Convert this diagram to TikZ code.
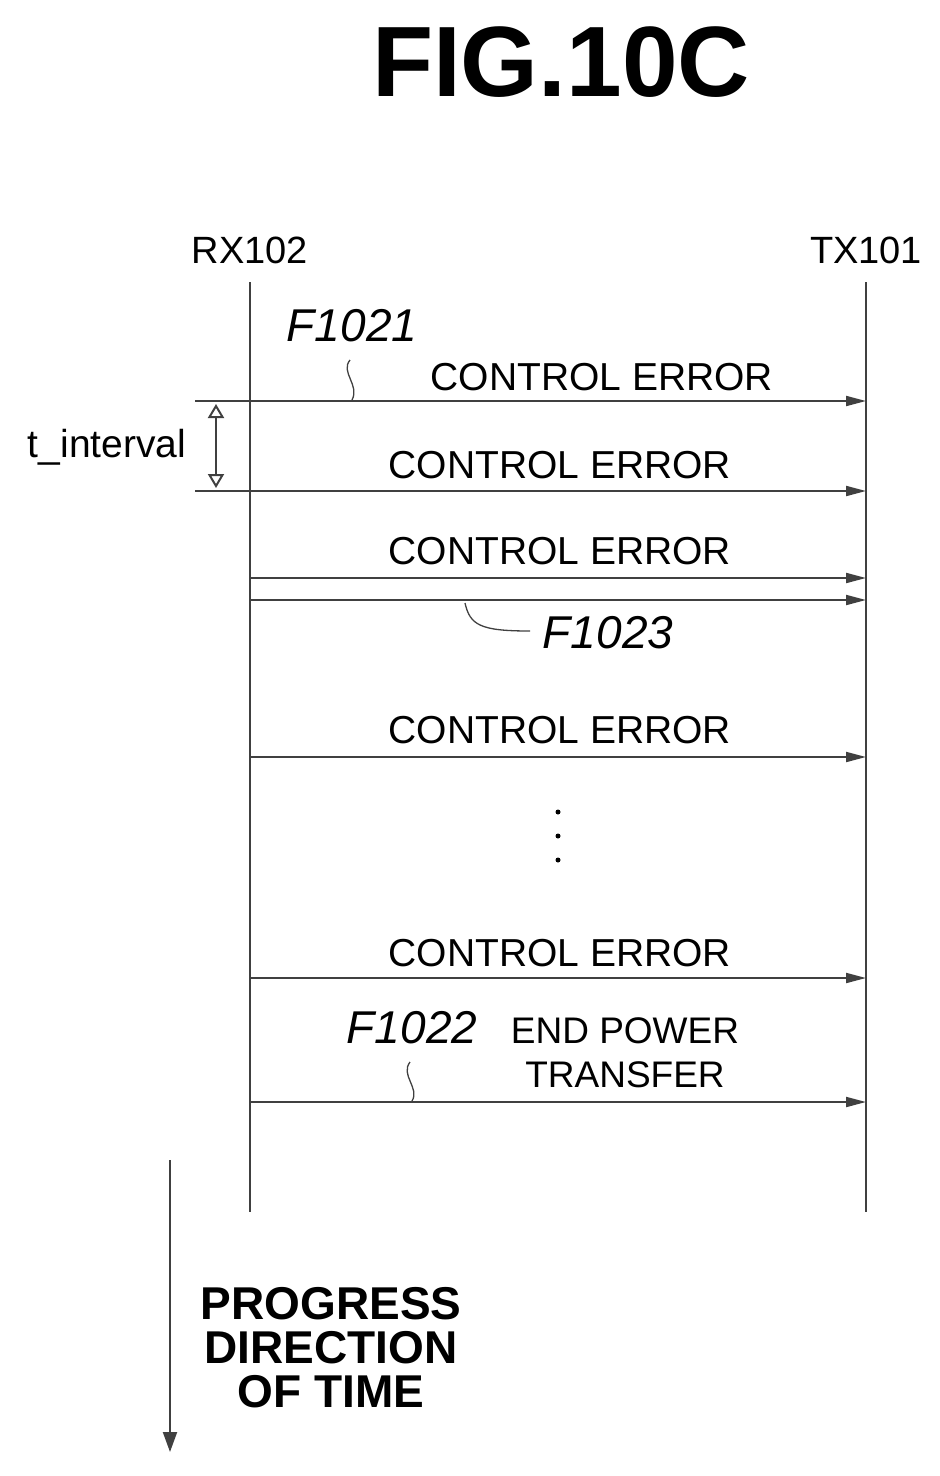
\documentclass[tikz,border=0pt]{standalone}
\usepackage{fontspec}
\setmainfont{Liberation Sans}
\usetikzlibrary{arrows.meta,decorations.pathmorphing}
\begin{document}
\begin{tikzpicture}[x=1pt,y=-1pt,
  ln/.style={line width=2pt,draw=black!75},
  msg/.style={ln,-{Triangle[length=20pt,width=10pt]}},
  lbl/.style={font=\fontsize{39}{40}\selectfont,inner sep=0},
  fl/.style={font=\fontsize{46}{48}\selectfont\itshape,inner sep=0},
  sq/.style={ln,line width=1pt,decorate,decoration={snake,amplitude=2.5pt,segment length=20pt}}]
\useasboundingbox (0,0) rectangle (940,1476);
\node[font=\fontsize{100}{110}\selectfont\bfseries,inner sep=0] (title) at (561,62) {FIG.10C};
\node[lbl,font=\fontsize{38}{40}\selectfont] (rx) at (250,250) {RX102};
\node[lbl,font=\fontsize{38}{40}\selectfont] (tx) at (866,250) {TX101};
\coordinate (rxt) at (250,282); \coordinate (rxb) at (250,1212);
\coordinate (txt) at (866,282); \coordinate (txb) at (866,1212);
\draw[ln] (rxt) -- (rxb); \draw[ln] (txt) -- (txb);
\foreach \y/\n in {401/a,491/b,578/c,600/d,757/e,978/f,1102/g}{
  \coordinate (s\n) at (250,\y); \coordinate (e\n) at (866,\y);
  \draw[msg] (s\n) -- (e\n);}
\node[lbl] (m1) at (602,377) {CONTROL ERROR};
\node[lbl] (m2) at (560,465) {CONTROL ERROR};
\node[lbl] (m3) at (560,551) {CONTROL ERROR};
\node[lbl] (m4) at (560,730) {CONTROL ERROR};
\node[lbl] (m5) at (560,953) {CONTROL ERROR};
\node[lbl,align=center,font=\fontsize{37}{44}\selectfont] (m6) at (625,1053) {END POWER\\TRANSFER};
\foreach \y/\n in {812/1,836/2,860/3} \fill (558,\y) circle (2.5pt) coordinate (dot\n);
\node[fl] (f1) at (352,326) {F1021};
\node[fl] (f3) at (608,633) {F1023};
\node[fl] (f2) at (412,1028) {F1022};
\coordinate (q1) at (350,360); \coordinate (q1e) at (352,400);
\draw[ln,line width=1.3pt] (q1) .. controls (340,372) and (360,385) .. (q1e);
\coordinate (q3) at (465,603); \coordinate (q3e) at (530,631);
\draw[ln,line width=1.3pt] (q3) .. controls (470,625) and (480,631) .. (q3e);
\coordinate (q2) at (410,1062); \coordinate (q2e) at (412,1101);
\draw[ln,line width=1.3pt] (q2) .. controls (400,1075) and (420,1088) .. (q2e);
% t_interval
\coordinate (ta) at (195,401); \coordinate (tb) at (195,491);
\draw[ln] (ta) -- (sa); \draw[ln] (tb) -- (sb);
\coordinate (da) at (216,404); \coordinate (db) at (216,488);
\draw[ln,{Triangle[length=14pt,width=16pt,open]}-{Triangle[length=14pt,width=16pt,open]}] (da) -- (db);
\node[lbl,font=\fontsize{39}{40}\selectfont] (ti) at (107,447) {t\_interval};
% progress
\coordinate (pa) at (170,1160); \coordinate (pb) at (170,1452);
\draw[ln,-{Triangle[length=20pt,width=14pt]}] (pa) -- (pb);
\node[align=center,font=\fontsize{46}{44}\selectfont\bfseries,inner sep=0] (pg) at (331,1348) {PROGRESS\\DIRECTION\\OF TIME};
\end{tikzpicture}
\end{document}
